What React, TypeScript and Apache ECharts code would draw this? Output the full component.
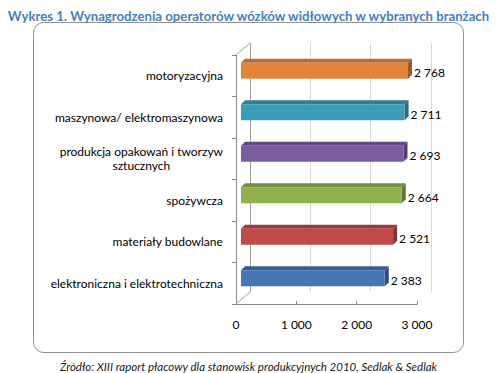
import React, { useEffect, useRef } from "react";
import * as echarts from "echarts";

const TITLE = "Wykres 1. Wynagrodzenia operatorów wózków widłowych w wybranych branżach";
const SOURCE = "Źródło: XIII raport płacowy dla stanowisk produkcyjnych 2010, Sedlak & Sedlak";
const categories = [
  "motoryzacyjna",
  "maszynowa/ elektromaszynowa",
  "produkcja opakowań i tworzyw\nsztucznych",
  "spożywcza",
  "materiały budowlane",
  "elektroniczna i elektrotechniczna",
];
const values = [2768, 2711, 2693, 2664, 2521, 2383];
const xTicks = [0, 1000, 2000, 3000];

const frontColors = ["#E3853D", "#3D9DB7", "#7A5CA0", "#8FB04F", "#BE4B48", "#4675B3"];
const topColors = ["#B96C31", "#2F7F95", "#614882", "#738E3F", "#9A3C3A", "#375D91"];
const sideColors = ["#9C5A28", "#276B7D", "#513C6D", "#5F7634", "#813231", "#2E4E7A"];

const FONT = "Lato, 'Open Sans', sans-serif";

function fmt(v: number): string {
  return String(v).replace(/\B(?=(\d{3})+(?!\d))/g, " ");
}

export default function App() {
  const ref = useRef<HTMLDivElement>(null);
  useEffect(() => {
    if (!ref.current) return;
    const chart = echarts.init(ref.current, undefined, { renderer: "svg" });
    const DX = 14;
    const DY = -12;
    const SX = 5;
    const SY = -5;
    const BH = 16;
    const D = 4;
    chart.setOption({
      animation: false,
      backgroundColor: "#ffffff",
      title: [
        {
          text: TITLE,
          left: "center",
          top: 4,
          textStyle: { fontFamily: FONT, fontSize: 13.2, fontWeight: "bold", color: "#4A7EBB" },
        },
        {
          text: SOURCE,
          left: "center",
          top: 355,
          textStyle: { fontFamily: FONT, fontSize: 11.5, fontWeight: "normal", fontStyle: "italic", color: "#1a1a1a" },
        },
      ],
      graphic: [
        {
          type: "rect",
          z: -10,
          shape: { x: 33.5, y: 22.5, width: 430, height: 330, r: 10 },
          style: { fill: "none", stroke: "#8f8f8f", lineWidth: 1 },
        },
      ],
      grid: [
        { left: 236, top: 55, width: 181, height: 249 },
        { left: 236 + DX, top: 55 + DY, width: 181, height: 249 },
      ],
      xAxis: [
        {
          type: "value",
          gridIndex: 0,
          min: xTicks[0],
          max: xTicks[xTicks.length - 1],
          interval: 1000,
          axisLine: { show: true, lineStyle: { color: "#868686" } },
          axisTick: { show: true, inside: true, length: 3, lineStyle: { color: "#868686" } },
          splitLine: { show: false },
          axisLabel: {
            margin: 14,
            fontFamily: FONT,
            fontSize: 12,
            color: "#000",
            formatter: (v: number) => fmt(v),
          },
        },
        {
          type: "value",
          gridIndex: 1,
          min: xTicks[0],
          max: xTicks[xTicks.length - 1],
          interval: 1000,
          axisLine: { show: false },
          axisTick: { show: false },
          axisLabel: { show: false },
          splitLine: { show: true, lineStyle: { color: "#d9d9d9" } },
        },
      ],
      yAxis: [
        {
          type: "category",
          gridIndex: 0,
          inverse: true,
          data: categories,
          axisLine: { show: true, lineStyle: { color: "#868686" } },
          axisTick: { show: true, length: 4, lineStyle: { color: "#868686" } },
          axisLabel: {
            margin: 13,
            fontFamily: FONT,
            fontSize: 12,
            color: "#000",
            lineHeight: 14,
            formatter: (v: string) => v.split("\n").map((l) => `{c|${l}}`).join("\n"),
            rich: { c: { align: "center", fontFamily: FONT, fontSize: 12, color: "#000", lineHeight: 14 } },
          },
        },
        {
          type: "category",
          gridIndex: 1,
          inverse: true,
          data: categories,
          axisLine: { show: true, lineStyle: { color: "#a0a0a0" } },
          axisTick: { show: false },
          axisLabel: { show: false },
          splitLine: { show: false },
        },
      ],
      series: [
        {
          type: "custom",
          xAxisIndex: 0,
          yAxisIndex: 0,
          z: 1,
          data: [[0]],
          renderItem: (params: any) => {
            const cs = params.coordSys;
            const ls = { stroke: "#a0a0a0", lineWidth: 1 };
            return {
              type: "group",
              children: [
                { type: "line", shape: { x1: cs.x, y1: cs.y, x2: cs.x + DX, y2: cs.y + DY }, style: ls },
                {
                  type: "line",
                  shape: { x1: cs.x, y1: cs.y + cs.height, x2: cs.x + DX, y2: cs.y + cs.height + DY },
                  style: ls,
                },
              ],
            };
          },
        },
        {
          type: "custom",
          xAxisIndex: 0,
          yAxisIndex: 0,
          z: 3,
          encode: { x: 1, y: 0 },
          data: values.map((v, i) => [i, v]),
          renderItem: (params: any, api: any) => {
            const idx = api.value(0);
            const v = api.value(1);
            const s = api.coord([0, idx]);
            const e = api.coord([v, idx]);
            const xl = s[0] + SX;
            const xr = e[0] + SX;
            const cy = s[1] + SY;
            const top = cy - BH / 2;
            const bot = cy + BH / 2;
            const i = params.dataIndex;
            return {
              type: "group",
              children: [
                {
                  type: "polygon",
                  shape: { points: [[xl, top], [xl + D, top - D], [xr + D, top - D], [xr, top]] },
                  style: { fill: topColors[i] },
                },
                {
                  type: "polygon",
                  shape: { points: [[xr, top], [xr + D, top - D], [xr + D, bot - D], [xr, bot]] },
                  style: { fill: sideColors[i] },
                },
                {
                  type: "rect",
                  shape: { x: xl, y: top, width: xr - xl, height: BH },
                  style: { fill: frontColors[i] },
                },
                {
                  type: "text",
                  style: {
                    text: fmt(v),
                    x: xr + D + 2,
                    y: cy + 2,
                    align: "left",
                    verticalAlign: "middle",
                    fontFamily: FONT,
                    fontSize: 12,
                    fill: "#000",
                  },
                },
              ],
            };
          },
        },
      ],
    });
    return () => chart.dispose();
  }, []);
  return (
    <div
      ref={ref}
      style={{ position: "fixed", left: 0, top: 0, width: 497, height: 373, background: "#fff" }}
    />
  );
}
